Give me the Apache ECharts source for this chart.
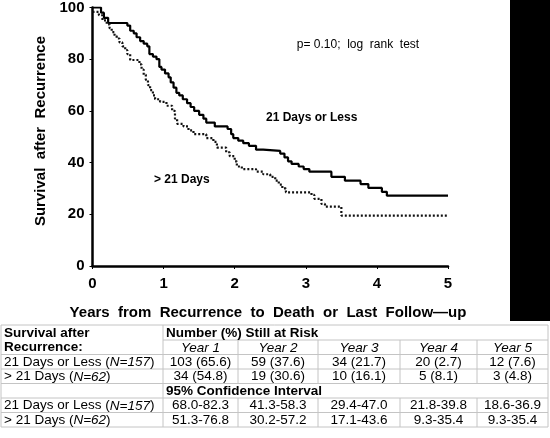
<!DOCTYPE html>
<html><head><meta charset="utf-8">
<script src="https://cdn.jsdelivr.net/npm/echarts@6/dist/echarts.min.js"></script>
<style>html,body{margin:0;padding:0;background:#fff}#c{width:550px;height:438px}</style>
</head><body><div id="c"></div>
<script>
// Kaplan-Meier step points [years, survival %]
var lessTimes = [0,0.12,0.16,0.22,0.49,0.53,0.58,0.62,0.67,0.72,0.77,0.8,0.85,0.9,0.94,0.97,1.02,1.07,1.1,1.14,1.18,1.22,1.27,1.33,1.38,1.43,1.5,1.56,1.6,1.72,1.9,1.95,1.98,2.05,2.12,2.2,2.3,2.4,2.64,2.7,2.75,2.8,2.9,2.97,3.05,3.36,3.55,3.77,3.88,4.07,4.14,5];
var lessSurv  = [100,98,96,94,93,91,90,88.5,87,86,85,82,81,80,77,76,74.5,73,71,69,67,66,64.5,63,61.5,60,58.5,57,55.5,54,53,51,49.5,48.5,47.5,46.5,45,44.5,43.5,42,40.5,39.5,38.5,37.5,36.5,34.5,33,31.7,30.2,28.7,27.2,27.2];
var moreTimes = [0,0.09,0.14,0.2,0.24,0.27,0.31,0.34,0.38,0.42,0.46,0.49,0.53,0.66,0.69,0.72,0.75,0.78,0.81,0.85,0.88,0.95,1.04,1.12,1.16,1.19,1.28,1.35,1.42,1.6,1.7,1.75,1.88,1.93,2.0,2.03,2.1,2.3,2.4,2.5,2.57,2.62,2.67,2.72,3.08,3.12,3.22,3.27,3.5,5];
var moreSurv  = [98.3,97,95,93.5,92,90.5,89,88,86.5,85,83.5,82,79.7,78,76,74,72,70,68,66,64.5,63.5,62,60,57,55,54,52.5,51,49.5,48,45.8,44,42.5,40.5,38.5,37.5,36.5,35.5,34.5,33,31.5,30,28.5,27.5,26,24,23,19.5,19.5];
var xTicks = [0,1,2,3,4,5];
var yTicks = [0,20,40,60,80,100];

// Table content
var yearHeads = ['Year 1','Year 2','Year 3','Year 4','Year 5'];
var groupLabels = [['21 Days or Less (','N=157',')'], ['> 21 Days (','N=62',')']];
var atRiskLess = ['103 (65.6)','59 (37.6)','34 (21.7)','20 (2.7)','12 (7.6)'];
var atRiskMore = ['34 (54.8)','19 (30.6)','10 (16.1)','5 (8.1)','3 (4.8)'];
var ciLess = ['68.0-82.3','41.3-58.3','29.4-47.0','21.8-39.8','18.6-36.9'];
var ciMore = ['51.3-76.8','30.2-57.2','17.1-43.6','9.3-35.4','9.3-35.4'];

function pairs(t, s){ return t.map(function(v,i){ return [v, s[i]]; }); }

var FONT = '"Liberation Sans", Arial, sans-serif';
var colX = [1,163,238,318,400,477,548];
var rowY = [325,340,354.5,369,383.5,398,412.5,427];
var gridColor = '#c4c4c4';
var g = [];
// black block on the right
g.push({type:'rect', shape:{x:510,y:0,width:40,height:321}, style:{fill:'#000'}});
// titles
g.push({type:'text', x:41, y:131, rotation:Math.PI/2, style:{text:'Survival  after  Recurrence', font:'bold 15px '+FONT, fill:'#000', align:'center', verticalAlign:'middle'}});
g.push({type:'text', x:268, y:313, style:{text:'Years  from  Recurrence  to  Death  or  Last  Follow\u2014up', font:'bold 15px '+FONT, fill:'#000', align:'center', verticalAlign:'middle'}});
// annotations
g.push({type:'text', x:358, y:45, style:{text:'p= 0.10;  log  rank  test', font:'12px '+FONT, fill:'#000', align:'center', verticalAlign:'middle'}});
g.push({type:'text', x:266, y:118, style:{text:'21 Days or Less', font:'bold 12px '+FONT, fill:'#000', align:'left', verticalAlign:'middle'}});
g.push({type:'text', x:154, y:180, style:{text:'> 21 Days', font:'bold 12px '+FONT, fill:'#000', align:'left', verticalAlign:'middle'}});

// table lines
function hline(x1,x2,y){ g.push({type:'line', shape:{x1:x1,y1:y,x2:x2,y2:y}, style:{stroke:gridColor,lineWidth:1}}); }
function vline(x,y1,y2){ g.push({type:'line', shape:{x1:x,y1:y1,x2:x,y2:y2}, style:{stroke:gridColor,lineWidth:1}}); }
hline(colX[0], colX[6], rowY[0]);
hline(colX[1], colX[6], rowY[1]);
for (var r=2;r<rowY.length;r++){ hline(colX[0], colX[6], rowY[r]); }
vline(colX[0], rowY[0], rowY[7]);
vline(colX[6], rowY[0], rowY[7]);
vline(colX[1], rowY[0], rowY[7]);
for (var c=2;c<6;c++){ vline(colX[c], rowY[1], rowY[4]); vline(colX[c], rowY[5], rowY[7]); }

function txt(x,y,s,font,align){ g.push({type:'text', x:x, y:y, style:{text:s, font:font, fill:'#000', align:align||'center', verticalAlign:'middle'}}); }
function mid(r){ return (rowY[r]+rowY[r+1])/2 + 0.5; }
var reg='13.5px '+FONT, bold='bold 13.5px '+FONT, ital='italic 13.5px '+FONT;
txt(4, mid(0), 'Survival after', bold, 'left');
txt(4, mid(1), 'Recurrence:', bold, 'left');
txt(166, mid(0), 'Number (%) Still at Risk', bold, 'left');
txt(166, mid(4), '95% Confidence Interval', bold, 'left');
function rich(r, parts){
  g.push({type:'text', x:4, y:mid(r), style:{
    text:'{a|'+parts[0]+'}{b|'+parts[1]+'}{a|'+parts[2]+'}',
    rich:{a:{font:reg, fill:'#000'}, b:{font:ital, fill:'#000'}},
    align:'left', verticalAlign:'middle'}});
}
rich(2, groupLabels[0]); rich(3, groupLabels[1]);
rich(5, groupLabels[0]); rich(6, groupLabels[1]);
for (var k=0;k<5;k++){
  var cx=(colX[k+1]+colX[k+2])/2;
  txt(cx, mid(1), yearHeads[k], ital);
  txt(cx, mid(2), atRiskLess[k], reg);
  txt(cx, mid(3), atRiskMore[k], reg);
  txt(cx, mid(5), ciLess[k], reg);
  txt(cx, mid(6), ciMore[k], reg);
}

var chart = echarts.init(document.getElementById('c'), null, {renderer:'canvas'});
chart.setOption({
  backgroundColor:'#fff',
  animation:false,
  grid:{left:92.5, right:102, top:5, bottom:172, containLabel:false},
  xAxis:{type:'value', min:0, max:5, interval:1,
    axisLine:{lineStyle:{color:'#000', width:2.5}},
    axisTick:{show:true, length:3, lineStyle:{color:'#000', width:1}},
    splitLine:{show:false},
    axisLabel:{color:'#000', fontFamily:FONT, fontWeight:'bold', fontSize:15, margin:10,
      formatter:function(v){ return xTicks.indexOf(v)>=0 ? String(v) : ''; }}},
  yAxis:{type:'value', min:0, max:100, interval:20,
    axisLine:{show:true, lineStyle:{color:'#000', width:2.5}},
    axisTick:{show:true, length:3, lineStyle:{color:'#000', width:1}},
    splitLine:{show:false},
    axisLabel:{color:'#000', fontFamily:FONT, fontWeight:'bold', fontSize:15, margin:8,
      formatter:function(v){ return yTicks.indexOf(v)>=0 ? String(v) : ''; }}},
  series:[
    {type:'line', step:'end', data:pairs(lessTimes, lessSurv), showSymbol:false, symbol:'none',
      lineStyle:{color:'#000', width:2.2, type:'solid'}},
    {type:'line', step:'end', data:pairs(moreTimes, moreSurv), showSymbol:false, symbol:'none',
      lineStyle:{color:'#111', width:2.2, type:[2,2]}}
  ],
  graphic:g
});
</script></body></html>
